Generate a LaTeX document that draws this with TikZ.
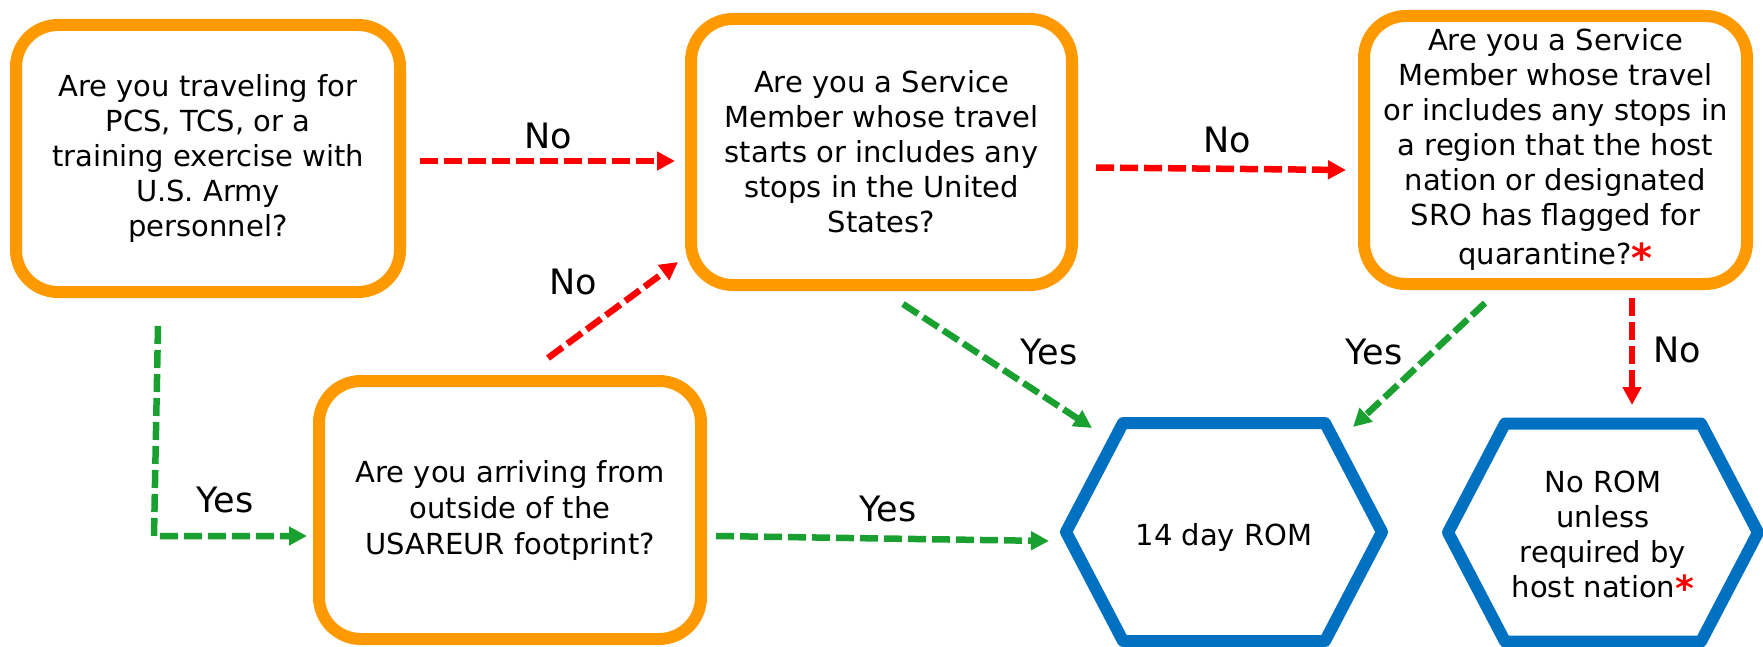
\documentclass[tikz,border=0pt]{standalone}
\usepackage{fontspec}
\setmainfont{DejaVu Sans}
\usetikzlibrary{arrows.meta,calc}
\definecolor{orng}{RGB}{255,153,0}
\definecolor{hexblue}{RGB}{0,112,192}
\definecolor{grn}{RGB}{26,160,48}
\definecolor{rd}{RGB}{255,0,0}
\newcommand\astbig{{\color{rd}\fontsize{40}{35}\selectfont\bfseries\raisebox{-8pt}{*}}}
\newcommand\astsmall{{\color{rd}\fontsize{36}{35}\selectfont\bfseries\raisebox{-4pt}{*}}}
\begin{document}
\begin{tikzpicture}[x=1pt,y=-1pt,
  qbox/.style={draw=orng, line width=12pt, rounded corners=42pt, align=center,
    inner sep=0pt, outer sep=0pt, font=\fontsize{29}{35}\selectfont},
  hextext/.style={align=center, inner sep=0pt, font=\fontsize{29}{35}\selectfont},
  hexline/.style={draw=hexblue, line width=12pt, line join=round},
  conn/.style={line width=6.5pt, dash pattern=on 18pt off 6pt,
    -{Triangle[length=18pt,width=18pt]}},
  noarrow/.style={conn, draw=rd},
  yesarrow/.style={conn, draw=grn},
  lbl/.style={font=\fontsize{35}{40}\selectfont, inner sep=0pt},
]
\useasboundingbox (0,0) rectangle (1763,647);

% question boxes
\node[qbox, minimum width=384pt, minimum height=267pt] (b1) at (208,158.5)
  {Are you traveling for\\PCS, TCS, or a\\training exercise with\\U.S. Army\\personnel?};
\node[qbox, minimum width=381pt, minimum height=266pt] (b2) at (881.5,152)
  {Are you a Service\\Member whose travel\\starts or includes any\\stops in the United\\States?};
\node[qbox, minimum width=383pt, minimum height=268pt] (b3) at (1555.5,150)
  {Are you a Service\\Member whose travel\\or includes any stops in\\a region that the host\\nation or designated\\SRO has flagged for\\[4pt]quarantine?\astbig};
\node[qbox, minimum width=382pt, minimum height=258pt, font=\fontsize{29}{36}\selectfont] (b4) at (510,510)
  {Are you arriving from\\outside of the\\USAREUR footprint?};

% outcome hexagons
\coordinate (h1c) at (1224,532);
\draw[hexline] ($(h1c)+(-158,0)$) -- ++(57,-109) -- ++(202,0) -- ++(57,109)
  -- ++(-57,109) -- ++(-202,0) -- cycle;
\node[hextext] (h1) at ($(h1c)+(0,5)$) {14 day ROM};

\coordinate (h2c) at (1603,532.5);
\draw[hexline] ($(h2c)+(-155,0)$) -- ++(57,-109) -- ++(196,0) -- ++(57,109)
  -- ++(-57,109) -- ++(-196,0) -- cycle;
\node[hextext] (h2) at ($(h2c)+(0,4)$) {No ROM\\unless\\required by\\host nation\astsmall};

% connectors
\draw[noarrow] ($(b1.east)+(20,2.5)$) -- ($(b2.west)+(-16,9)$);
\draw[noarrow] ($(b2.east)+(24,15.5)$) -- ($(b3.west)+(-18,20)$);
\draw[noarrow] ($(b4.north)+(38,-23)$) -- ($(b2.south west)+(-13,-23)$);
\draw[noarrow] ($(b3.south)+(76.5,14)$) -- ($(h2c)+(29,-127.5)$);
\draw[yesarrow] ($(b2.south)+(21.5,19)$) -- ($(h1c)+(-132,-104)$);
\draw[yesarrow] ($(b3.south)+(-70.5,19)$) -- ($(h1c)+(129,-105)$);
\draw[yesarrow] ($(b4.east)+(15,26)$) -- ($(h1c)+(-175,9)$);
\draw[yesarrow] ($(b1.south)+(-50,34)$) -- ($(b4.west)+(-165,26)$) -- ($(b4.west)+(-12,26)$);

% labels
\node[lbl] (l1) at (548,136) {No};
\node[lbl] (l2) at (1227,140) {No};
\node[lbl] (l3) at (573,282) {No};
\node[lbl] (l4) at (1677,350) {No};
\node[lbl] (l5) at (1049,352) {Yes};
\node[lbl] (l6) at (1374,352) {Yes};
\node[lbl] (l7) at (888,509) {Yes};
\node[lbl] (l8) at (225,500) {Yes};
\end{tikzpicture}
\end{document}
